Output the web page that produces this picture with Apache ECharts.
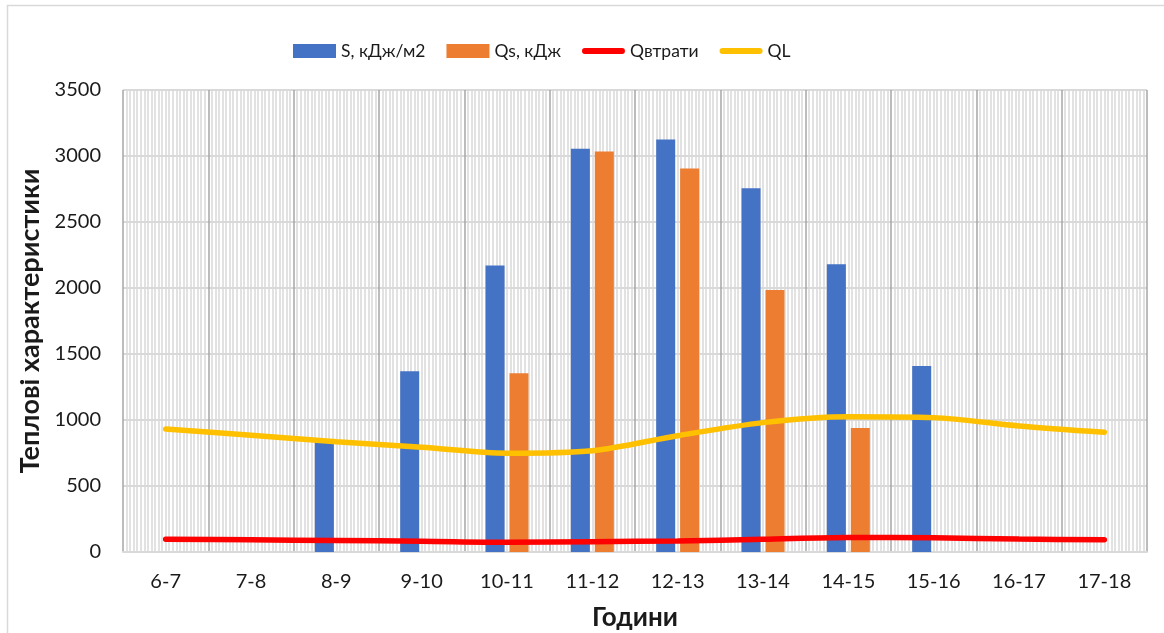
<!DOCTYPE html>
<html>
<head>
<meta charset="utf-8">
<script src="https://cdn.jsdelivr.net/npm/echarts@6/dist/echarts.min.js"></script>
<style>
  html, body { margin: 0; padding: 0; background: #fff; }
  #chart { width: 1164px; height: 633px; }
</style>
</head>
<body>
<div id="chart"></div>
<script>
// Hourly intervals
const hours = ['6-7', '7-8', '8-9', '9-10', '10-11', '11-12', '12-13', '13-14', '14-15', '15-16', '16-17', '17-18'];
// Solar irradiation S, kJ/m2
const sValues = [0, 0, 840, 1370, 2170, 3055, 3125, 2755, 2180, 1410, 0, 0];
// Absorbed heat Qs, kJ
const qsValues = [0, 0, 0, 0, 1355, 3035, 2905, 1985, 940, 0, 0, 0];
// Heat losses
const qLossValues = [96, 92, 87, 82, 74, 78, 84, 96, 110, 108, 98, 93];
// QL
const qlValues = [932, 885, 836, 793, 748, 767, 881, 980, 1025, 1018, 955, 907];
// Value axis ticks
const yTicks = { min: 0, max: 3500, step: 500 };

const FONT = 'Lato, "Open Sans", sans-serif';
// Thick rounded stroke used as the legend icon of the line series
const LINE_ICON = 'path://M3,0 H41 A3,3 0 0 1 41,6 H3 A3,3 0 0 1 3,0 Z';

const chart = echarts.init(document.getElementById('chart'), null, { renderer: 'canvas' });

chart.setOption({
  animation: false,
  backgroundColor: '#fff',
  textStyle: { fontFamily: FONT },
  graphic: [{
    type: 'rect',
    shape: { x: 7.5, y: 5.5, width: 1180, height: 650 },
    style: { fill: 'none', stroke: '#d9d9d9', lineWidth: 1.5 },
    silent: true, z: -10
  }],
  legend: {
    left: 288, top: 37,
    itemWidth: 43, itemHeight: 14, itemGap: 21,
    symbolKeepAspect: true,
    textStyle: { fontFamily: FONT, fontSize: 17.5, color: '#1a1a1a' },
    data: [
      { name: 'S, кДж/м2', icon: 'rect' },
      { name: 'Qs, кДж', icon: 'rect' },
      { name: 'Qвтрати', icon: LINE_ICON, itemStyle: { color: '#FF0000' } },
      { name: 'QL', icon: LINE_ICON, itemStyle: { color: '#FFC000' } }
    ]
  },
  grid: { left: 123, right: 17, top: 90, bottom: 81, containLabel: false, outerBoundsMode: 'none' },
  xAxis: [{
    type: 'category',
    data: hours,
    boundaryGap: true,
    name: 'Години',
    nameLocation: 'middle',
    nameGap: 53,
    nameTextStyle: { fontFamily: FONT, fontSize: 26, fontWeight: 'bold', color: '#1a1a1a' },
    axisLine: { show: true, lineStyle: { color: '#d9d9d9', width: 2 } },
    axisTick: { show: false },
    axisLabel: { fontFamily: FONT, fontSize: 20, color: '#1a1a1a', margin: 20 },
    splitLine: { show: false }
  }, {
    // Hidden value axis used only for the vertical grid pattern
    type: 'value',
    min: 0, max: 12, interval: 1,
    position: 'bottom',
    axisLine: { show: false },
    axisTick: { show: false },
    axisLabel: { show: false },
    splitLine: { show: true, lineStyle: { color: '#a6a6a6', width: 1.5 } },
    minorTick: { show: false, splitNumber: 24 },
    minorSplitLine: { show: true, lineStyle: { color: '#d9d9d9', width: 1.5 } }
  }],
  yAxis: {
    type: 'value',
    min: yTicks.min, max: yTicks.max, interval: yTicks.step,
    name: 'Теплові характеристики',
    nameLocation: 'middle',
    nameRotate: 90,
    nameGap: 71,
    nameTextStyle: { fontFamily: FONT, fontSize: 27, fontWeight: 'bold', color: '#1a1a1a' },
    axisLine: { show: false },
    axisTick: { show: false },
    axisLabel: { fontFamily: FONT, fontSize: 20, color: '#1a1a1a', margin: 22, formatter: v => String(v) },
    splitLine: { show: true, lineStyle: { color: '#d9d9d9', width: 2 } }
  },
  series: [{
    name: 'S, кДж/м2', type: 'bar', data: sValues,
    barWidth: 19, barGap: '26%',
    itemStyle: { color: '#4472C4' }
  }, {
    name: 'Qs, кДж', type: 'bar', data: qsValues,
    barWidth: 19, barGap: '26%',
    itemStyle: { color: '#ED7D31' }
  }, {
    name: 'Qвтрати', type: 'line', data: qLossValues,
    smooth: 0.3, symbol: 'none', z: 5,
    itemStyle: { color: '#FF0000' },
    lineStyle: { color: '#FF0000', width: 5.5, cap: 'round' }
  }, {
    name: 'QL', type: 'line', data: qlValues,
    smooth: 0.3, symbol: 'none', z: 5,
    itemStyle: { color: '#FFC000' },
    lineStyle: { color: '#FFC000', width: 5.5, cap: 'round' }
  }]
});
</script>
</body>
</html>
